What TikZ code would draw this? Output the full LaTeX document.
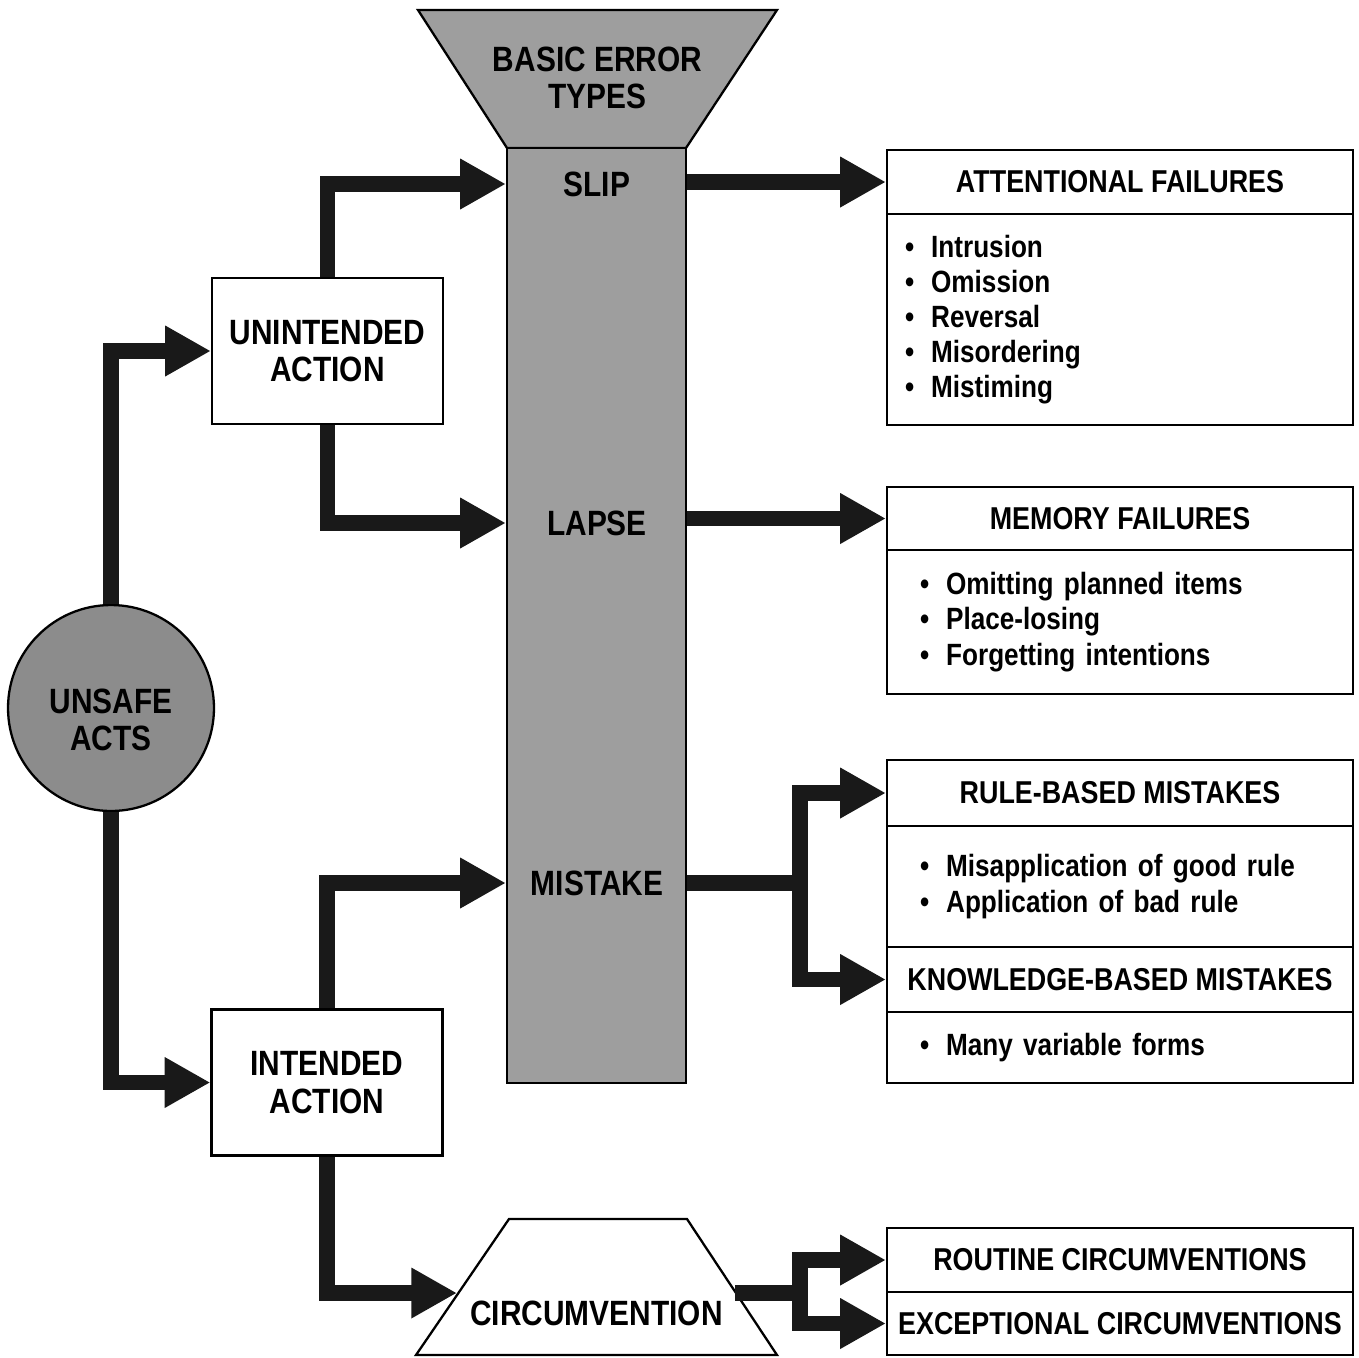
\documentclass[tikz,border=0pt]{standalone}
\usepackage{fontspec}
\setmainfont{Liberation Sans}[FakeStretch=0.85]
\usetikzlibrary{arrows.meta}

\tikzset{
  flowline/.style={draw=black!90, line width=9pt},
  flow/.style={flowline, -{Triangle[length=26pt,width=27pt]}},
  bigtext/.style={font=\bfseries\fontsize{20}{21.5}\selectfont, align=center},
  actbox/.style={draw, line width=1.3pt, fill=white, minimum width=4.62cm, minimum height=2.92cm, bigtext},
  headbox/.style={draw, line width=1.3pt, fill=white, minimum width=9.32cm, minimum height=#1, inner sep=0pt, font=\bfseries\fontsize{18}{20}\selectfont},
  bodybox/.style={draw, line width=1.3pt, fill=white, minimum height=#1, inner ysep=0pt, align=left, font=\bfseries\fontsize{17.5}{20}\selectfont},
  padA/.style={inner xsep=0.36cm, text width=8.6cm},
  padB/.style={inner xsep=0.66cm, text width=8cm},
}
\newcommand{\bul}{\makebox[0.85em][l]{\textbullet}}

\begin{document}
\begin{tikzpicture}[x=0.02cm, y=-0.02cm]
\useasboundingbox (0,0) rectangle (1359,1357);

\draw[line width=1.3pt, fill=black!38] (418,10) -- (777,10) -- (686,148) -- (507,148) -- cycle;
\node[bigtext] (funnel) at (597.5,78) {BASIC ERROR\\TYPES};
\node[draw, line width=1.3pt, fill=black!38, minimum width=3.58cm, minimum height=18.7cm] (col) at (596.5,615.5) {};
\node[bigtext] (slip) at (597,184) {SLIP};
\node[bigtext] (lapse) at (597,523) {LAPSE};
\node[bigtext] (mistake) at (597,883) {MISTAKE};

\node[draw, line width=1.3pt, fill=black!45, circle, minimum size=4.12cm, inner sep=0pt] (unsafe) at (111,708) {};
\node[bigtext] (unsafetxt) at (111,720) {UNSAFE\\ACTS};
\node[actbox] (unint) at (327.5,351) {UNINTENDED\\ACTION};
\node[actbox] (inten) at (327,1082.5) {INTENDED\\ACTION};

\draw[line width=1.3pt, fill=white] (416,1355) -- (509,1219) -- (687,1219) -- (777,1355) -- cycle;
\coordinate (circin) at (457,1293);
\coordinate (circout) at (735,1293);
\node[bigtext] (circ) at (596.5,1313) {CIRCUMVENTION};

\node[headbox=1.28cm] (atthd) at (1120,182) {ATTENTIONAL FAILURES};
\node[bodybox=4.22cm, padA] (attbd) at (1120,319.5) {\bul Intrusion\\\bul Omission\\\bul Reversal\\\bul Misordering\\\bul Mistiming};
\node[headbox=1.26cm] (memhd) at (1120,518.5) {MEMORY FAILURES};
\node[bodybox=2.88cm, padB] (membd) at (1120,622) {\bul Omitting planned items\\\bul Place-losing\\\bul Forgetting intentions};
\node[headbox=1.32cm] (rulehd) at (1120,793) {RULE-BASED MISTAKES};
\node[bodybox=2.42cm, padB] (rulebd) at (1120,886.5) {\bul Misapplication of good rule\\\bul Application of bad rule};
\node[headbox=1.3cm] (knowhd) at (1120,979.5) {KNOWLEDGE-BASED MISTAKES};
\node[bodybox=1.42cm, padB] (knowbd) at (1120,1047.5) {\bul Many variable forms};
\node[headbox=1.28cm] (routhd) at (1120,1260) {ROUTINE CIRCUMVENTIONS};
\node[headbox=1.26cm] (exchd) at (1120,1323.5) {EXCEPTIONAL CIRCUMVENTIONS};

\coordinate (mfork) at (800,883);
\coordinate (cfork) at (800,1293);

\draw[flow] (unsafe.north) |- (unint);
\draw[flow] (unsafe.south) |- (inten);
\draw[flow] (unint.north) |- (col.west |- slip);
\draw[flow] (unint.south) |- (col.west |- lapse);
\draw[flow] (inten.north) |- (col.west |- mistake);
\draw[flow] (inten.south) |- (circin);
\draw[flow] (col.east |- atthd) -- (atthd);
\draw[flow] (col.east |- memhd) -- (memhd);
\draw[flowline] (col.east |- mistake) -- (mfork);
\draw[flow] (mfork) |- (rulehd);
\draw[flow] (mfork) |- (knowhd);
\draw[flowline] (circout) -- (cfork);
\draw[flow] (cfork) |- (routhd);
\draw[flow] (cfork) |- (exchd);
\end{tikzpicture}
\end{document}
